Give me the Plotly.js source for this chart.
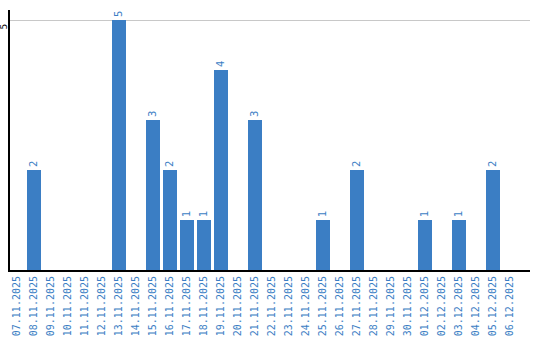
<!DOCTYPE html>
<html><head><meta charset="utf-8">
<script src="https://cdn.plot.ly/plotly-3.0.1.min.js"></script>
<style>body{margin:0;padding:0;background:#fff}#chart{width:540px;height:340px}</style>
</head><body><div id="chart"></div>
<script>
const dates = ["07.11.2025","08.11.2025","09.11.2025","10.11.2025","11.11.2025","12.11.2025","13.11.2025","14.11.2025","15.11.2025","16.11.2025","17.11.2025","18.11.2025","19.11.2025","20.11.2025","21.11.2025","22.11.2025","23.11.2025","24.11.2025","25.11.2025","26.11.2025","27.11.2025","28.11.2025","29.11.2025","30.11.2025","01.12.2025","02.12.2025","03.12.2025","04.12.2025","05.12.2025","06.12.2025"];
const counts = [0,2,0,0,0,0,5,0,3,2,1,1,4,0,3,0,0,0,1,0,2,0,0,0,1,0,1,0,2,0];
const yTicks = [5];

const labels = counts.map(v => v > 0 ? String(v) : "");
const trace = {
  type: "bar",
  x: dates.map((d, i) => i),
  y: counts,
  width: 0.82,
  marker: {color: "#3b7ec4"},
  text: labels,
  textposition: "outside",
  textangle: -90,
  cliponaxis: false,
  textfont: {family: "DejaVu Sans", size: 10, color: "#3b7ec4"},
  hoverinfo: "none"
};
const layout = {
  width: 540, height: 340,
  margin: {l: 10, r: 10, t: 10, b: 70},
  paper_bgcolor: "#fff", plot_bgcolor: "#fff",
  showlegend: false,
  bargap: 0,
  xaxis: {
    range: [-0.41, 30.18],
    tickmode: "array",
    tickvals: dates.map((d, i) => i),
    ticktext: dates,
    tickangle: -90,
    tickfont: {family: "DejaVu Sans Mono", size: 10, color: "#3b7ec4"},
    showline: true, linecolor: "#000", linewidth: 2,
    showgrid: false, zeroline: false, ticks: ""
  },
  yaxis: {
    range: [0, 5.2],
    tickmode: "array",
    tickvals: yTicks,
    ticktext: yTicks.map(String),
    tickangle: -90,
    tickfont: {family: "DejaVu Sans", size: 9, color: "#000"},
    showline: true, linecolor: "#000", linewidth: 2,
    showgrid: true, gridcolor: "#c8c8c8", gridwidth: 1,
    zeroline: false, ticks: "", ticklabelstandoff: -3, ticklabelshift: 8
  }
};
Plotly.newPlot("chart", [trace], layout, {staticPlot: true});
</script></body></html>
